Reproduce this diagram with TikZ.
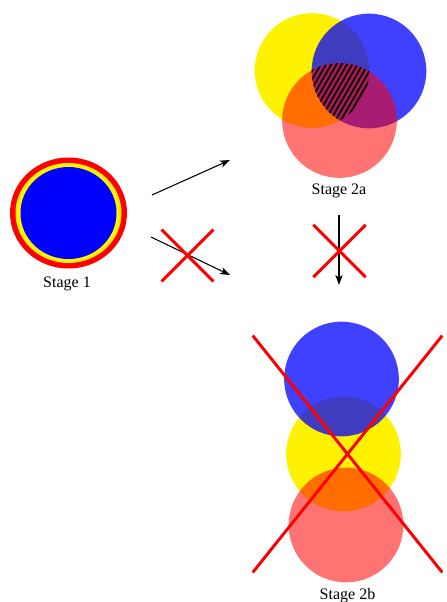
\documentclass[tikz,border=0pt]{standalone}
\usepackage{fontspec}
\setmainfont{Liberation Serif}
\usetikzlibrary{arrows.meta,shapes.geometric,shapes.misc,patterns.meta}

\begin{document}
\begin{tikzpicture}[x=0.75pt,y=-0.75pt,>={Stealth[length=7.5pt,width=5.5pt,inset=2pt]},
    disc/.style={circle,inner sep=0pt,minimum size=86pt},
    ring/.style={ellipse,inner sep=0pt},
    nope/.style={cross out,draw=red,line width=2.2pt,inner sep=0pt},
    caption/.style={anchor=base,font=\fontsize{12}{14}\selectfont}]
        \useasboundingbox (0,0) rectangle (446,602);
        % stage 1
        \node[ring,fill=red,minimum width=87.75pt,minimum height=83.25pt] (ring1) at (68.5,213) {};
        \node[ring,fill=yellow,minimum width=79.5pt,minimum height=75pt] (ring2) at (68.5,213) {};
        \node[ring,fill=blue,minimum width=72pt,minimum height=69pt] (core) at (68.5,213) {};
        \node[caption] (lab1) at (67,287.5) {Stage 1};
        % stage 2a
        \node[disc,fill=yellow] (yel2a) at (312,70.5) {};
        \node[disc,fill=blue,fill opacity=0.75] (blu2a) at (369,71) {};
        \node[disc,fill=red,fill opacity=0.55] (red2a) at (339.5,120.5) {};
        \begin{scope}
            \clip (yel2a.center) circle[radius=43pt];
            \clip (blu2a.center) circle[radius=43pt];
            \fill[pattern={Lines[angle=60,distance=3.4pt,line width=1.3pt]},pattern color=black] (red2a.center) circle[radius=43pt];
        \end{scope}
        \node[caption] (lab2a) at (339,195) {Stage 2a};
        % stage 2b
        \node[disc,fill=yellow] (yel2b) at (343.5,454) {};
        \node[disc,fill=blue,fill opacity=0.75] (blu2b) at (341.5,379) {};
        \node[disc,fill=red,fill opacity=0.55] (red2b) at (346,525) {};
        \node[caption] (lab2b) at (347.5,599.5) {Stage 2b};
        % transitions
        \coordinate (up0) at (152,195);
        \coordinate (up1) at (230,160);
        \coordinate (lo0) at (151,237);
        \coordinate (lo1) at (230,275);
        \coordinate (dn0) at (339,215);
        \coordinate (dn1) at (339,285);
        \draw[->,line width=0.8pt] (up0) -- (up1);
        \draw[->,line width=0.8pt] (lo0) -- (lo1);
        \draw[->,line width=0.8pt] (dn0) -- (dn1);
        \node[nope,minimum size=36.75pt] (x1) at (187.5,255.5) {};
        \node[nope,minimum size=37pt] (x2) at (339.5,251) {};
        \node[nope,minimum width=140pt,minimum height=175.5pt] (x3) at (347.5,454) {};
    \end{tikzpicture}
\end{document}
